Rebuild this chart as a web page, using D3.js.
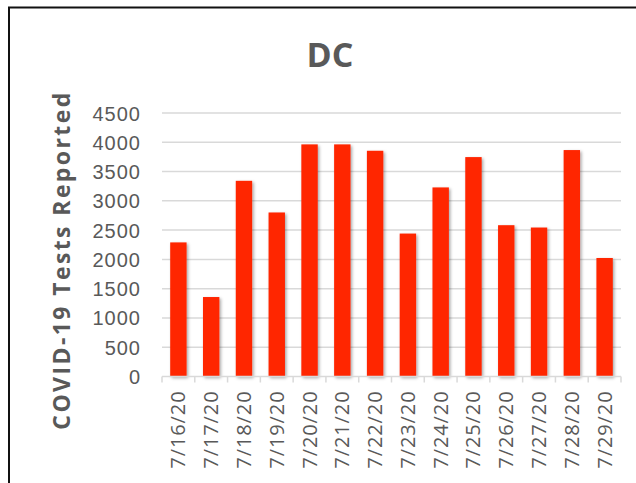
<!DOCTYPE html>
<html>
<head>
<meta charset="utf-8">
<script src="https://cdn.jsdelivr.net/npm/d3@7"></script>
<style>
  body { margin: 0; background: #fff; }
  svg { display: block; font-family: "Open Sans", sans-serif; }
  .tick text { fill: #595959; }
</style>
</head>
<body>
<svg width="636" height="483"></svg>
<script>
const dates = ["7/16/20", "7/17/20", "7/18/20", "7/19/20", "7/20/20", "7/21/20", "7/22/20",
  "7/23/20", "7/24/20", "7/25/20", "7/26/20", "7/27/20", "7/28/20", "7/29/20"];
const tests = [2290, 1357, 3342, 2801, 3964, 3964, 3855, 2441, 3229, 3747, 2584, 2544, 3867, 2024];
const yTicks = [0, 500, 1000, 1500, 2000, 2500, 3000, 3500, 4000, 4500];

const svg = d3.select("svg");
const plotLeft = 162, plotRight = 621, plotTop = 113, plotBottom = 376.5;

// chart frame (runs off the right and bottom edges)
svg.append("rect")
  .attr("x", 9).attr("y", 7.5)
  .attr("width", 700).attr("height", 600)
  .attr("fill", "none").attr("stroke", "#111").attr("stroke-width", 2);

const defs = svg.append("defs");
defs.append("filter").attr("id", "shadow")
  .attr("x", "-50%").attr("y", "-10%").attr("width", "200%").attr("height", "120%")
  .append("feDropShadow")
  .attr("dx", 1.5).attr("dy", 1.5).attr("stdDeviation", 1.5)
  .attr("flood-color", "#000").attr("flood-opacity", 0.35);

const x = d3.scaleBand().domain(dates).range([plotLeft, plotRight]).paddingInner(0.5).paddingOuter(0.25);
const y = d3.scaleLinear().domain([0, 4500]).range([plotBottom, plotTop]);

// gridlines
svg.append("g")
  .selectAll("line")
  .data(yTicks.filter(d => d > 0))
  .join("line")
  .attr("x1", plotLeft).attr("x2", plotRight)
  .attr("y1", d => y(d)).attr("y2", d => y(d))
  .attr("stroke", "#d9d9d9").attr("stroke-width", 1.5);

// y axis labels
const yAxis = svg.append("g")
  .attr("transform", `translate(${plotLeft},0)`)
  .call(d3.axisLeft(y).tickValues(yTicks).tickFormat(d3.format("d")).tickSize(0).tickPadding(21));
yAxis.select(".domain").remove();
yAxis.selectAll("text").style("font-size", "20px").style("letter-spacing", "1px").attr("dy", "0.35em");

// bars
svg.append("g")
  .selectAll("rect")
  .data(tests)
  .join("rect")
  .attr("x", (d, i) => x(dates[i]))
  .attr("y", d => y(d))
  .attr("width", x.bandwidth())
  .attr("height", d => y(0) - y(d))
  .attr("fill", "#ff2500")
  .attr("filter", "url(#shadow)");

// x axis with ticks between categories
const step = x.step();
svg.append("line")
  .attr("x1", plotLeft).attr("x2", plotRight)
  .attr("y1", plotBottom).attr("y2", plotBottom)
  .attr("stroke", "#d9d9d9").attr("stroke-width", 1.5);
svg.append("g")
  .selectAll("line")
  .data(d3.range(dates.length + 1))
  .join("line")
  .attr("x1", i => plotLeft + i * step).attr("x2", i => plotLeft + i * step)
  .attr("y1", plotBottom).attr("y2", plotBottom + 6)
  .attr("stroke", "#d9d9d9").attr("stroke-width", 1.5);

svg.append("g")
  .selectAll("text")
  .data(dates)
  .join("text")
  .attr("transform", d => `translate(${x(d) + x.bandwidth() / 2},${plotBottom + 14}) rotate(-90)`)
  .attr("text-anchor", "end")
  .attr("dy", "0.35em")
  .attr("fill", "#595959")
  .style("font-size", "20px")
  .style("letter-spacing", "0.9px")
  .text(d => d);

// title
svg.append("text")
  .attr("x", 330).attr("y", 67)
  .attr("text-anchor", "middle")
  .attr("fill", "#595959")
  .style("font-size", "34px").style("font-weight", "bold")
  .text("DC");

// y axis title
svg.append("text")
  .attr("transform", "translate(62,260) rotate(-90)")
  .attr("text-anchor", "middle")
  .attr("dy", "0.35em")
  .attr("fill", "#595959")
  .style("font-size", "23px").style("font-weight", "bold")
  .style("letter-spacing", "2.4px")
  .text("COVID-19 Tests Reported");
</script>
</body>
</html>
